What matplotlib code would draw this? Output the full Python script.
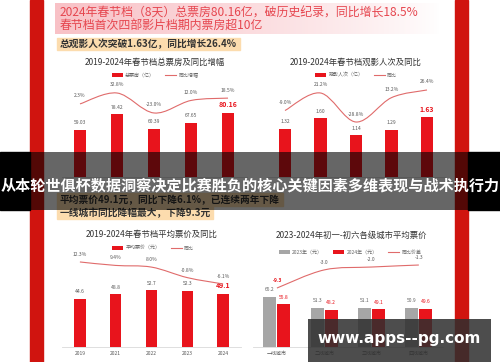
import numpy as np
import matplotlib
matplotlib.use("Agg")
import matplotlib.pyplot as plt
from matplotlib.path import Path
from matplotlib.patches import PathPatch, Rectangle
from matplotlib.lines import Line2D

plt.rcParams['font.family'] = ['Noto Sans CJK SC', 'DejaVu Sans']

# data
years = ['2019', '2021', '2022', '2023', '2024']
box_office = [59.03, 78.42, 60.39, 67.65, 80.16]        # 亿
box_office_yoy = [2.3, 32.8, -23.0, 12.0, 18.5]         # %
admissions = [1.32, 1.60, 1.14, 1.29, 1.63]             # 亿
admissions_yoy = [-9.0, 21.2, -28.8, 13.2, 26.4]        # %
avg_price = [44.6, 48.8, 52.7, 52.3, 49.1]              # 元
avg_price_yoy = [12.3, 9.4, 8.0, -0.8, -6.1]            # %
city_tiers = ['一线城市', '二线城市', '三线城市', '四线城市']
price_2023 = [65.2, 51.3, 51.1, 50.9]
price_2024 = [55.8, 48.2, 49.1, 49.6]
price_diff = [-9.3, -3.0, -2.0, -1.3]

W, H = 500, 362
RED = '#e8141c'
LINE = '#e06b6b'
GRAY = '#595959'
BAR_GRAY = '#a6a6a6'
SMALL = 3.6

fig = plt.figure(figsize=(W / 100, H / 100), dpi=100)
fig.patch.set_facecolor('white')


def box(x0, y0, x1, y1):
    # pixel box (top-left origin) -> figure fraction
    return [x0 / W, 1 - y1 / H, (x1 - x0) / W, (y1 - y0) / H]


def fx(x):
    return x / W


def fy(y):
    return 1 - y / H


def smooth_path(xs, ys):
    # catmull-rom through the points, as bezier segments
    p = np.column_stack([xs, ys]).astype(float)
    ext = np.vstack([p[0], p, p[-1]])
    verts, codes = [p[0]], [Path.MOVETO]
    for i in range(len(p) - 1):
        c1 = ext[i + 1] + (ext[i + 2] - ext[i]) / 6
        c2 = ext[i + 2] - (ext[i + 3] - ext[i + 1]) / 6
        verts += [c1, c2, p[i + 1]]
        codes += [Path.CURVE4] * 3
    return Path(verts, codes)


def style_axes(ax, labels, pad, show_labels=True):
    for s in ['top', 'left', 'right']:
        ax.spines[s].set_visible(False)
    ax.spines['bottom'].set_color('#d9d9d9')
    ax.spines['bottom'].set_linewidth(0.6)
    ax.set_yticks([])
    ax.set_xticks(range(len(labels)))
    # top charts: the year labels sit under the banner and are not visible
    ax.set_xticklabels(labels if show_labels else [], fontsize=SMALL, color=GRAY)
    ax.tick_params(axis='x', length=0, pad=pad)
    ax.set_xlim(-0.5, len(labels) - 0.5)


def bar_labels(ax, xs, vals, fmt, offs=7, last_red=True, color=GRAY):
    for i, (x, v) in enumerate(zip(xs, vals)):
        red = last_red and i == len(vals) - 1
        ax.annotate(fmt.format(v), (x, v), xytext=(0, offs + (1 if red else 0)),
                    textcoords='offset pixels', ha='center', va='center',
                    fontsize=5 if red else SMALL, color=RED if red else color,
                    fontweight='bold' if red else 'normal')


def yoy_line(ax, xs, vals, lim, fmt, offs=8):
    ax.set_ylim(*lim)
    ax.axis('off')
    ax.add_patch(PathPatch(smooth_path(xs, vals), fill=False, ec=LINE, lw=0.8))
    for x, v in zip(xs, vals):
        ax.annotate(fmt.format(v), (x, v), xytext=(0, offs), textcoords='offset pixels',
                    ha='center', va='center', fontsize=SMALL, color=GRAY)


def legend(ax, handles, labels, cx, cy):
    ax.legend(handles, labels, loc='center', bbox_to_anchor=(fx(cx), fy(cy)),
              bbox_transform=fig.transFigure, ncol=len(handles), frameon=False,
              fontsize=SMALL, labelcolor='#666666', handlelength=2.2, handleheight=0.9,
              columnspacing=2.0, handletextpad=0.5, borderpad=0)


# red side strips
for x0 in (30, 455):
    fig.patches.append(Rectangle((fx(x0), 0), 13 / W, 1, transform=fig.transFigure,
                                 color='#d0140f', zorder=1))

# pink gradient header
axh = fig.add_axes(box(55, 3, 440, 34))
grad = np.linspace(0, 1, 256)
rgba = np.zeros((1, 256, 4))
rgba[..., 0] = 0.976
rgba[..., 1] = 0.76
rgba[..., 2] = 0.78
rgba[..., 3] = (1 - grad) ** 0.8
axh.imshow(rgba, aspect='auto', extent=[0, 1, 0, 1])
axh.axis('off')
fig.text(fx(60), fy(13.5), '2024年春节档（8天）总票房80.16亿，破历史纪录，同比增长18.5%',
         fontsize=8.6, color='#e6464f', va='center', ha='left')
fig.text(fx(60), fy(26), '春节档首次四部影片档期内票房超10亿',
         fontsize=8.6, color='#e6464f', va='center', ha='left')

# peach highlighted sub headings
highlights = [((57, 38, 240, 50), (60, 44), '总观影人次突破1.63亿，同比增长26.4%'),
              ((57, 193, 283, 206), (60, 200), '平均票价49.1元，同比下降6.1%，已连续两年下降'),
              ((57, 206, 213, 219), (60, 212.5), '一线城市同比降幅最大，下降9.3元')]
for (x0, y0, x1, y1), (tx, ty), s in highlights:
    fig.patches.append(Rectangle((fx(x0), fy(y1)), (x1 - x0) / W, (y1 - y0) / H,
                                 transform=fig.transFigure, color='#fcdcae', zorder=2))
    fig.text(fx(tx), fy(ty), s, fontsize=7, fontweight='bold', color='#333333',
             va='center', ha='left', zorder=3)

x5 = np.arange(len(years))
x4 = np.arange(len(city_tiers))

# chart 1: box office
ax1 = fig.add_axes(box(61.5, 80, 246.5, 177))
b1 = ax1.bar(x5, box_office, width=0.3, color=RED)
ax1.set_ylim(0, 121)
style_axes(ax1, years, 3, show_labels=False)
bar_labels(ax1, x5, box_office, '{:.2f}')
yoy_line(ax1.twinx(), x5, box_office_yoy, (-201.8, 69.1), '{:.1f}%')
legend(ax1, [b1, Line2D([], [], color=LINE, lw=0.8)], ['总票房（亿）', '同比增幅'], 155, 75)
fig.text(fx(155), fy(62), '2019-2024年春节档总票房及同比增幅', fontsize=6, color='#333333',
         ha='center', va='center')

# chart 2: admissions
ax2 = fig.add_axes(box(267.25, 80, 444.75, 177))
b2 = ax2.bar(x5, admissions, width=0.34, color=RED)
ax2.set_ylim(0, 2.64)
style_axes(ax2, years, 3, show_labels=False)
bar_labels(ax2, x5, admissions, '{:.2f}')
yoy_line(ax2.twinx(), x5, admissions_yoy, (-123.6, 43.6), '{:.1f}%')
legend(ax2, [b2, Line2D([], [], color=LINE, lw=0.8)], ['观影人次（亿）', '同比'], 356, 75)
fig.text(fx(356), fy(62), '2019-2024年春节档观影人次及同比', fontsize=6, color='#333333',
         ha='center', va='center')

# chart 3: average ticket price
ax3 = fig.add_axes(box(62, 250, 241, 347))
b3 = ax3.bar(x5, avg_price, width=0.32, color=RED)
ax3.set_ylim(0, 89.8)
style_axes(ax3, years, 3)
bar_labels(ax3, x5, avg_price, '{:.1f}')
yoy_line(ax3.twinx(), x5, avg_price_yoy, (-58.8, 22.3), '{:.1f}%', offs=7.5)
legend(ax3, [b3, Line2D([], [], color=LINE, lw=0.8)], ['平均票价（元）', '同比'], 153, 248)
fig.text(fx(152), fy(234), '2019-2024年春节档平均票价及同比', fontsize=6, color='#333333',
         ha='center', va='center')

# chart 4: price by city tier
ax4 = fig.add_axes(box(253.3, 250, 442.5, 347))
b4a = ax4.bar(x4 - 0.148, price_2023, width=0.275, color=BAR_GRAY)
b4b = ax4.bar(x4 + 0.148, price_2024, width=0.275, color=RED)
ax4.set_ylim(0, 126)
style_axes(ax4, city_tiers, 3)
bar_labels(ax4, x4 - 0.148, price_2023, '{:.1f}', last_red=False, color='#666666')
bar_labels(ax4, x4 + 0.148, price_2024, '{:.1f}', last_red=False, color=RED)
t4 = ax4.twinx()
yoy_line(t4, x4, price_diff, (-29.8, 3.92), '{:.1f}', offs=7.5)
t4.texts[0].set_color(RED)
t4.texts[0].set_fontweight('bold')
legend(ax4, [b4a, b4b, Line2D([], [], color=LINE, lw=0.8)],
       ['2023年（元）', '2024年（元）', '同比价差'], 350, 252)
fig.text(fx(351), fy(235), '2023-2024年初一-初六各级城市平均票价', fontsize=6, color='#333333',
         ha='center', va='center')

# dark banner across the middle
for x0, x1 in ((0, 30), (468, 500)):
    fig.patches.append(Rectangle((fx(x0), fy(210)), (x1 - x0) / W, 58 / H,
                                 transform=fig.transFigure, color='black', zorder=10))
fig.patches.append(Rectangle((fx(30), fy(210)), 438 / W, 58 / H, transform=fig.transFigure,
                             color='black', alpha=0.6, lw=0, zorder=10))
fig.text(0.5, fy(185), '从本轮世俱杯数据洞察决定比赛胜负的核心关键因素多维表现与战术执行力',
         fontsize=10.9, fontweight='bold', color='white', ha='center', va='center', zorder=11)

# watermark
fig.patches.append(Rectangle((fx(308), 0), 183 / W, 43 / H, transform=fig.transFigure,
                             color='#2e2e2e', alpha=0.85, lw=0, zorder=12))
fig.text(fx(399.5), fy(338), 'www.apps--pg.com', fontsize=11, fontweight='bold',
         family='DejaVu Sans', color='white', ha='center', va='center', zorder=13)

fig.savefig('out.png', dpi=100)
